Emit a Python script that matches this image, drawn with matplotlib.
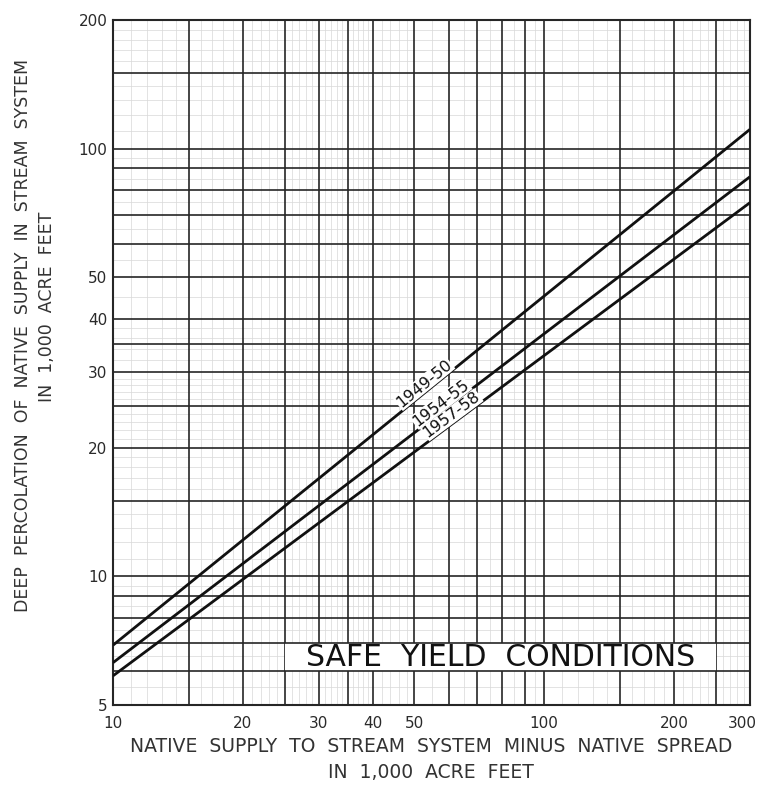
import numpy as np
import matplotlib
matplotlib.use("Agg")
import matplotlib.pyplot as plt
import matplotlib.transforms as mtransforms
from matplotlib.patches import Rectangle
from matplotlib.ticker import FixedLocator, NullLocator, FixedFormatter

# ---- data ----
x_ends = [10, 300]
y_1949_50 = [6.9, 111]
y_1954_55 = [6.28, 86]
y_1957_58 = [5.85, 74.8]
series_labels = ["1949-50", "1954-55", "1957-58"]
label_x = [54, 59, 62.5]

x_major_grid = [10, 15, 20, 25, 30, 35, 40, 50, 60, 70, 80, 90, 100, 150, 200, 250, 300]
y_major_grid = [5, 6, 7, 8, 9, 10, 15, 20, 25, 30, 35, 40, 50, 60, 70, 80, 90, 100, 150, 200]
x_minor_grid = [11, 12, 13, 14, 16, 17, 18, 19, 21, 22, 23, 24, 26, 27, 28, 29, 31, 32, 33, 34,
                36, 37, 38, 39, 42, 44, 46, 48, 55, 65, 75, 85, 95, 110, 120, 130, 140,
                160, 170, 180, 190, 210, 220, 230, 240, 260, 270, 280, 290]
y_minor_grid = [5.5, 6.5, 7.5, 8.5, 9.5, 11, 12, 13, 14, 16, 17, 18, 19, 21, 22, 23, 24,
                26, 27, 28, 29, 32, 34, 36, 38, 45, 55, 65, 75, 85, 95, 110, 120, 130, 140,
                160, 170, 180, 190]
x_tick_vals = [10, 20, 30, 40, 50, 100, 200, 300]
x_tick_labels = ["10", "20", "30", "40", "50", "100", "200", "300"]
y_tick_vals = [5, 10, 20, 30, 40, 50, 100, 200]
y_tick_labels = ["5", "10", "20", "30", "40", "50", "100", "200"]

title_text = "SAFE  YIELD  CONDITIONS"
title_box_x = [25, 250]
title_box_y = [6, 7]

plt.rcParams['font.family'] = ['DejaVu Sans']

fig = plt.figure(figsize=(7.62, 7.86), dpi=100)
ax = fig.add_axes([113 / 762, 1 - 705 / 786, (750 - 113) / 762, (705 - 20) / 786])
ax.set_xscale('log')
ax.set_yscale('log')
ax.set_xlim(10, 300)
ax.set_ylim(5, 200)

grid_col = '#262626'
for xv in x_minor_grid:
    ax.axvline(xv, color='#d8d8d8', lw=0.5, zorder=1)
for yv in y_minor_grid:
    ax.axhline(yv, color='#d8d8d8', lw=0.5, zorder=1)
for xv in x_major_grid:
    ax.axvline(xv, color=grid_col, lw=1.2, zorder=2)
for yv in y_major_grid:
    ax.axhline(yv, color=grid_col, lw=1.2, zorder=3.5)

for s in ax.spines.values():
    s.set_color(grid_col)
    s.set_linewidth(1.5)

ax.xaxis.set_major_locator(FixedLocator(x_tick_vals))
ax.xaxis.set_major_formatter(FixedFormatter(x_tick_labels))
ax.xaxis.set_minor_locator(NullLocator())
ax.yaxis.set_major_locator(FixedLocator(y_tick_vals))
ax.yaxis.set_major_formatter(FixedFormatter(y_tick_labels))
ax.yaxis.set_minor_locator(NullLocator())
ax.tick_params(axis='both', length=0, colors='#2a2a2a', labelsize=11)
ax.tick_params(axis='x', pad=8)
ax.tick_params(axis='y', pad=4)

series = [y_1949_50, y_1954_55, y_1957_58]
for ys in series:
    ax.plot(x_ends, ys, color='#111111', lw=2.0, zorder=4, solid_capstyle='butt')

# white panel for the title, between grid lines
ax.add_patch(Rectangle((title_box_x[0], title_box_y[0]), title_box_x[1] - title_box_x[0],
                       title_box_y[1] - title_box_y[0], facecolor='white', edgecolor='none',
                       zorder=3))
gx = np.sqrt(title_box_x[0] * title_box_x[1])
# place the baseline a little above the lower grid line of the panel
base_t = mtransforms.offset_copy(ax.transData, fig=fig, x=0, y=5, units='dots')
ax.text(gx, title_box_y[0], title_text, ha='center', va='baseline', transform=base_t,
        fontsize=21.5, color='#111111', zorder=7)

fig.canvas.draw()
for ys, lab, lx in zip(series, series_labels, label_x):
    p = ax.transData.transform(np.column_stack([x_ends, ys]))
    ang = np.degrees(np.arctan2(p[1, 1] - p[0, 1], p[1, 0] - p[0, 0]))
    slope = np.log(ys[1] / ys[0]) / np.log(x_ends[1] / x_ends[0])
    ly = ys[0] * (lx / x_ends[0]) ** slope
    ax.text(lx, ly, lab, rotation=ang, rotation_mode='anchor', ha='center', va='bottom',
            fontsize=11.5, color='#111111', zorder=6,
            bbox=dict(facecolor='white', edgecolor='none', pad=0.3))

# nudge the last x tick label inside the figure
lbls = ax.get_xticklabels()
off = mtransforms.ScaledTranslation(-8 / 100, 0, fig.dpi_scale_trans)
lbls[-1].set_transform(lbls[-1].get_transform() + off)

fig.text(431 / 762, 1 - 746 / 786, "NATIVE  SUPPLY  TO  STREAM  SYSTEM  MINUS  NATIVE  SPREAD",
         ha='center', va='center', fontsize=13.5, color='#333333')
fig.text(431 / 762, 1 - 772 / 786, "IN  1,000  ACRE  FEET",
         ha='center', va='center', fontsize=13.5, color='#333333')
fig.text(23 / 762, 1 - 335 / 786, "DEEP  PERCOLATION  OF  NATIVE  SUPPLY  IN  STREAM  SYSTEM",
         ha='center', va='center', rotation=90, fontsize=12.5, color='#333333')
fig.text(47 / 762, 1 - 307 / 786, "IN  1,000  ACRE  FEET",
         ha='center', va='center', rotation=90, fontsize=12.5, color='#333333')

fig.savefig("out.png", dpi=100)
